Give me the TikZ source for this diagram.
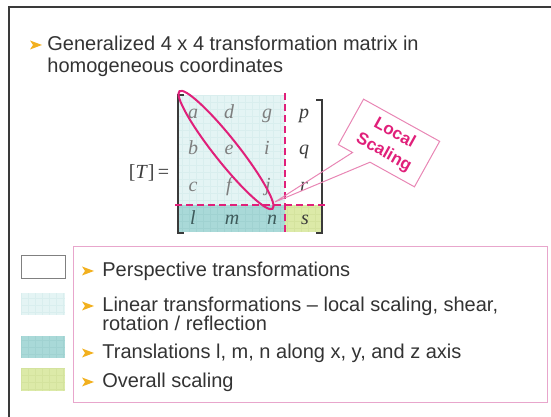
\documentclass[tikz,border=0pt]{standalone}
\usepackage{fontspec}
\setmainfont{Liberation Sans}
\newfontfamily\serifletters{Liberation Serif}
\usetikzlibrary{shapes.callouts}

\definecolor{hotpink}{HTML}{E0207A}
\definecolor{calloutpink}{HTML}{E886B4}
\definecolor{boxpink}{HTML}{E8A6CC}
\definecolor{lincyan}{HTML}{E4F4F4}
\definecolor{lincyangrid}{HTML}{D9EEEE}
\definecolor{transteal}{HTML}{A9D9D8}
\definecolor{transtealgrid}{HTML}{A0D2D1}
\definecolor{scalegreen}{HTML}{DCEAA8}
\definecolor{scalegreengrid}{HTML}{D4E39E}
\definecolor{bulletorange}{HTML}{F2B01E}
\definecolor{textgray}{HTML}{333333}
\definecolor{lettergray}{HTML}{7E7E7E}
\definecolor{letterdark}{HTML}{3C3C3C}
\definecolor{letterteal}{HTML}{3E5A5A}
\definecolor{framegray}{HTML}{3A3A3A}

\tikzset{
  itemtext/.style={anchor=base west,inner sep=0pt,text=textgray,
    font=\fontsize{20}{22}\selectfont},
  entry/.style={anchor=base,inner sep=0pt,
    font=\serifletters\itshape\fontsize{20}{20}\selectfont},
  magdash/.style={hotpink,line width=2.4pt,dash pattern=on 7pt off 4pt},
  arrowbullet/.pic={\fill[bulletorange] (-6,4.5) -- (6,0) -- (-6,-4.5) -- (-3,0) -- cycle;}
}

\begin{document}
\begin{tikzpicture}[x=1pt,y=1pt,line width=0.8pt]
  \useasboundingbox (0,0) rectangle (551,417);
  \draw[framegray,line width=2pt] (551,410) -- (9,410) -- (9,0);

  % heading
  \node[itemtext] (head1) at (47,366) {Generalized 4 x 4 transformation matrix in};
  \node[itemtext] (head2) at ([yshift=-22pt]head1.base west) {homogeneous coordinates};
  \pic at ([shift={(-11,6)}]head1.base west) {arrowbullet};

  % matrix blocks
  \fill[lincyan] (178,212) rectangle (285,322);
  \draw[lincyangrid,line width=0.3pt,step=7pt] (178,212) grid (285,322);
  \fill[transteal] (178,185) rectangle (285,212);
  \draw[transtealgrid,line width=0.3pt,step=7pt] (178,185) grid (285,212);
  \fill[scalegreen] (285,185) rectangle (322,212);
  \draw[scalegreengrid,line width=0.3pt,step=7pt] (285,185) grid (322,212);

  \foreach \ltr/\cx/\cy/\col in {a/193/298/lettergray,d/229/298/lettergray,g/267/298/lettergray,p/304/298/letterdark,
      b/193/262/lettergray,e/229/262/lettergray,i/267/262/lettergray,q/304/262/letterdark,
      c/193/225/lettergray,f/229/225/lettergray,j/268/225/lettergray,r/304/225/letterdark,
      l/193/192/letterteal,m/232/192/letterteal,n/272/192/letterteal,s/305/192/letterdark}
    \node[entry,text=\col] (m-\ltr) at (\cx,\cy) {\ltr};

  \draw[framegray,line width=1.2pt] (184,322) -- (178,322) -- (178,184) -- (184,184);
  \draw[framegray,line width=1.2pt] (316,317) -- (322,317) -- (322,184) -- (316,184);
  \draw[magdash] (285,324) -- (285,184);
  \draw[magdash] (175,212) -- (325,212);

  \node[text=letterdark,font=\serifletters\fontsize{20}{20}\selectfont] (lhs) at (149,244) {[\textit{T}]\,=};

  % diagonal and callout
  \draw[hotpink,line width=2pt] (226,267) ellipse [x radius=75,y radius=12,rotate=-51.6];
  \coordinate (tip) at (275,215);
  \node[rectangle callout,draw=calloutpink,line width=1pt,rotate=-29,
    minimum width=87pt,minimum height=52pt,callout absolute pointer={(tip)},
    callout pointer width=20pt,text=hotpink,align=center,
    font=\bfseries\fontsize{17}{22}\selectfont] (local) at (389,274) {Local\\Scaling};

  % legend
  \draw[boxpink,line width=1pt] (73,14) rectangle (547,170);
  \draw[gray,line width=1pt,fill=white] (21,138) rectangle (65,161);
  \fill[lincyan] (21,102) rectangle (65,124);
  \draw[lincyangrid,line width=0.3pt,step=7pt] (21,102) grid (65,124);
  \fill[transteal] (21,59) rectangle (65,81);
  \draw[transtealgrid,line width=0.3pt,step=7pt] (21,59) grid (65,81);
  \fill[scalegreen] (21,26) rectangle (65,49);
  \draw[scalegreengrid,line width=0.3pt,step=7pt] (21,26) grid (65,49);

  \node[itemtext] (persp) at (102,140) {Perspective transformations};
  \node[itemtext] (linear) at (102,105) {Linear transformations -- local scaling, shear,};
  \node[itemtext] (linear2) at (102,86) {rotation / reflection};
  \node[itemtext] (transl) at (102,58) {Translations l, m, n along x, y, and z axis};
  \node[itemtext] (overall) at (102,29) {Overall scaling};
  \foreach \itm in {persp,linear,transl,overall}
    \pic at ([shift={(-14,6)}]\itm.base west) {arrowbullet};
\end{tikzpicture}
\end{document}
